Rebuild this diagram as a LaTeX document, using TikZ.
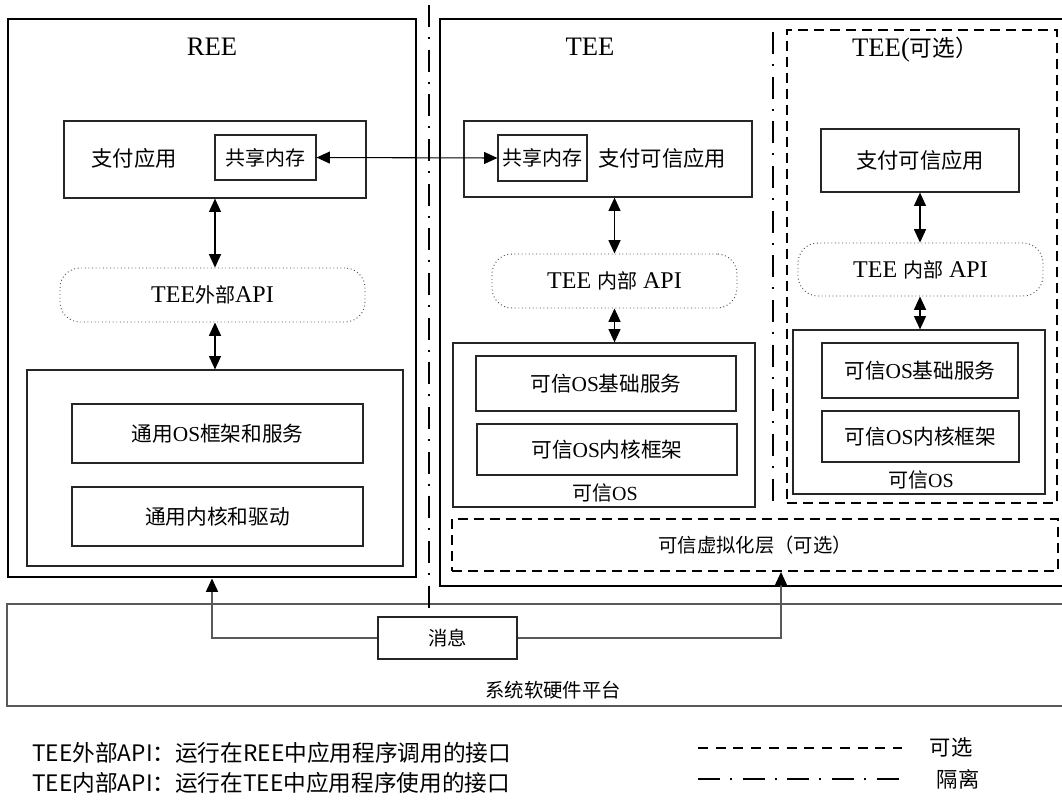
\documentclass[tikz,border=0pt]{standalone}
\usepackage{fontspec}
\setmainfont{Liberation Serif}
\newfontfamily\cjk{Noto Sans CJK SC}
\usetikzlibrary{arrows.meta,fit}
\newcommand\zh[1]{{\cjk #1}}
\newcommand\fsz[1]{\fontsize{#1}{#1}\selectfont}
\begin{document}
\begin{tikzpicture}[x=0.75pt,y=-0.75pt,
 outer/.style={draw,line width=2.2pt,inner sep=0pt},
 box/.style={draw=black!85,line width=0.9pt,inner sep=0pt},
 apibox/.style={draw=black!70,dotted,line width=0.7pt,rounded corners=15pt,inner sep=0pt},
 optbox/.style={draw,line width=1.4pt,dash pattern=on 7.5pt off 4.5pt,inner sep=0pt},
 iso/.style={line width=2.2pt,dash pattern=on 16.5pt off 7.5pt on 1.5pt off 8pt},
 arr/.style={line width=0.8pt,{Triangle[length=10pt,width=9pt]}-{Triangle[length=10pt,width=9pt]}},
 uarr/.style={draw=black!65,line width=1.1pt,-{Triangle[length=10pt,width=9pt,color=black]}},
 lbl/.style={inner sep=0pt},
 every label/.style={inner sep=0pt},
 ]
\useasboundingbox (0,0) rectangle (1062,801);
\fill[white] (0,0) rectangle (1062,801);
\begin{scope}
\clip (0,0) rectangle (1062,801);
% platform
\node[draw=black!65,line width=1.4pt,inner sep=0pt,fit={(7,604) (1075,706)}] (plat) {};
\node[lbl,font=\cjk\fsz{14.5}] (platt) at (553,690) {系统软硬件平台};
% isolation lines
\coordinate (i1a) at (429,5); \coordinate (i1b) at (429,609);
\draw[iso] (i1a) -- (i1b);
\coordinate (i2a) at (773,32); \coordinate (i2b) at (773,508);
\draw[iso,line width=1.8pt] (i2a) -- (i2b);
% REE
\node[outer,fit={(8,19) (416,577)}] (ree) {};
\node[lbl,font=\fsz{20}] (reet) at (212,47) {REE};
\node[box,fit={(64,121) (366,198)}] (app1) {};
\node[lbl,font=\cjk\fsz{16}] (app1t) at (134,158) {支付应用};
\node[box,fit={(215,135) (316,180)},label={[font=\cjk\fsz{15}]center:共享内存}] (shm1) {};
\node[apibox,fit={(60,268) (365,322)},label={[font=\fsz{18}]center:TEE\zh{\fsz{15}外部}API}] (api1) {};
\node[box,fit={(27,370) (403,566)}] (os1) {};
\node[box,fit={(72,404) (363,463)},label={[font=\fsz{16}]center:\zh{\fsz{15.5}通用}OS\zh{\fsz{15.5}框架和服务}}] (os1a) {};
\node[box,fit={(72,487) (363,546)},label={[font=\cjk\fsz{15.5}]center:通用内核和驱动}] (os1b) {};
\draw[arr] (app1.south) -- (app1.south |- api1.north);
\draw[arr] (app1.south |- api1.south) -- (app1.south |- os1.north);
% TEE
\node[outer,fit={(440,19) (1075,586)}] (tee) {};
\node[lbl,font=\fsz{20}] (teet) at (590,47) {TEE};
\node[box,fit={(464,121) (752,197)}] (app2) {};
\node[box,fit={(498,135) (587,181)},label={[font=\cjk\fsz{15}]center:共享内存}] (shm2) {};
\node[lbl,font=\cjk\fsz{16}] (app2t) at (662,158) {支付可信应用};
\draw[arr] (shm1.east) -- (shm2.west);
\node[apibox,fit={(492,254) (737,308)},label={[font=\fsz{18}]center:TEE \zh{\fsz{15}内部} API}] (api2) {};
\node[box,fit={(453,343) (755,507)}] (os2) {};
\node[box,fit={(476,356) (736,411)},label={[font=\fsz{16}]center:\zh{\fsz{15.5}可信}OS\zh{\fsz{15.5}基础服务}}] (os2a) {};
\node[box,fit={(477,424) (737,475)},label={[font=\fsz{16}]center:\zh{\fsz{15.5}可信}OS\zh{\fsz{15.5}内核框架}}] (os2b) {};
\node[lbl,font=\fsz{15}] (os2t) at (605,493) {\zh{可信}OS};
\draw[arr] (app2.south -| api2.north) -- (api2.north);
\draw[arr] (api2.south) -- (api2.south |- os2.north);
% virtualization
\node[optbox,fit={(452,519) (1058,571)},label={[font=\cjk\fsz{14.5}]center:可信虚拟化层（可选）}] (virt) {};
% optional TEE
\node[optbox,fit={(787,30) (1057,503)}] (opt) {};
\node[lbl,font=\fsz{20}] (optt) at (915,50) {TEE(\zh{\fsz{17}可选）}};
\node[box,fit={(821,129) (1019,192)},label={[font=\cjk\fsz{16}]center:支付可信应用}] (app3) {};
\node[apibox,fit={(798,243) (1043,296)},label={[font=\fsz{18}]center:TEE \zh{\fsz{15}内部} API}] (api3) {};
\node[box,fit={(793,330) (1045,494)}] (os3) {};
\node[box,fit={(822,343) (1018,398)},label={[font=\fsz{16}]center:\zh{\fsz{15.5}可信}OS\zh{\fsz{15.5}基础服务}}] (os3a) {};
\node[box,fit={(822,411) (1019,462)},label={[font=\fsz{16}]center:\zh{\fsz{15.5}可信}OS\zh{\fsz{15.5}内核框架}}] (os3b) {};
\node[lbl,font=\fsz{15}] (os3t) at (921,480) {\zh{可信}OS};
\draw[arr] (app3.south) -- (app3.south |- api3.north);
\draw[arr] (app3.south |- api3.south) -- (app3.south |- os3.north);
% message
\node[box,fit={(378,617) (517,659)},fill=white,label={[font=\cjk\fsz{14.5}]center:消息}] (msg) {};
\coordinate (vx) at (781,0);
\draw[uarr] (msg.west) -| (ree.south);
\draw[uarr] (msg.east) -| (virt.south -| vx);
% legend
\node[lbl,anchor=west,font=\cjk\fsz{17}] (lg1) at (32,753) {TEE外部API：运行在REE中应用程序调用的接口};
\node[lbl,anchor=west,font=\cjk\fsz{17}] (lg2) at (32,783) {TEE内部API：运行在TEE中应用程序使用的接口};
\coordinate (d1a) at (698,748); \coordinate (d1b) at (902,748);
\draw[line width=1.5pt,dash pattern=on 7.5pt off 5.8pt] (d1a) -- (d1b);
\node[lbl,font=\cjk\fsz{16}] (lg3) at (951,747) {可选};
\coordinate (d2a) at (698,779); \coordinate (d2b) at (900,779);
\draw[iso] (d2a) -- (d2b);
\node[lbl,font=\cjk\fsz{16}] (lg4) at (958,779) {隔离};
\end{scope}
\end{tikzpicture}
\end{document}
